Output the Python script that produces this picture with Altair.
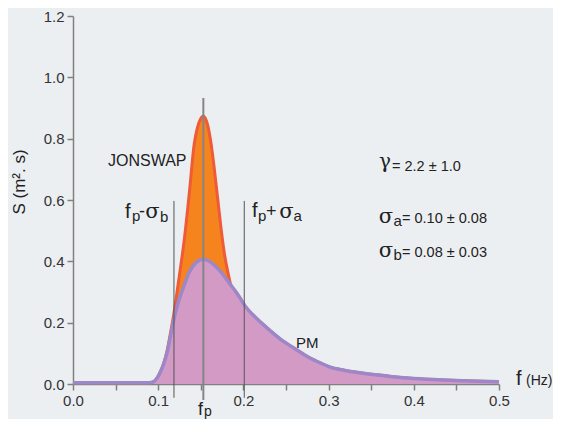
import altair as alt
import pandas as pd

# ---- data ----
pm_f = [0.0, 0.089, 0.095, 0.0988, 0.1035, 0.107, 0.1106, 0.114, 0.117, 0.121, 0.125, 0.130,
        0.136, 0.144, 0.153, 0.160, 0.168, 0.176, 0.1835, 0.190, 0.195, 0.201, 0.215, 0.2306,
        0.245, 0.260, 0.278, 0.290, 0.301, 0.318, 0.3365, 0.355, 0.375, 0.400, 0.434, 0.465, 0.500]
pm_s = [0.004, 0.004, 0.008, 0.020, 0.045, 0.070, 0.105, 0.150, 0.192, 0.240, 0.280, 0.318,
        0.362, 0.395, 0.407, 0.400, 0.382, 0.357, 0.329, 0.305, 0.285, 0.258, 0.215, 0.176,
        0.143, 0.116, 0.085, 0.069, 0.056, 0.045, 0.037, 0.030, 0.024, 0.018, 0.013, 0.010, 0.0075]

js_f = [0.0, 0.089, 0.095, 0.0988, 0.1035, 0.107, 0.1106, 0.114, 0.1185, 0.1247, 0.1306,
        0.1365, 0.1424, 0.1459, 0.1482, 0.153, 0.158, 0.162, 0.166, 0.170, 0.174, 0.178,
        0.182, 0.186, 0.190, 0.195, 0.201, 0.215, 0.2306, 0.245, 0.260, 0.278, 0.290, 0.301,
        0.318, 0.3365, 0.355, 0.375, 0.400, 0.434, 0.465, 0.500]
js_s = [0.004, 0.004, 0.008, 0.020, 0.045, 0.072, 0.110, 0.160, 0.231, 0.351, 0.470,
        0.622, 0.785, 0.834, 0.855, 0.874, 0.845, 0.785, 0.698, 0.600, 0.502, 0.420,
        0.362, 0.317, 0.305, 0.285, 0.258, 0.215, 0.176, 0.143, 0.116, 0.085, 0.069, 0.056,
        0.045, 0.037, 0.030, 0.024, 0.018, 0.013, 0.010, 0.0075]

side_f = [0.1185, 0.201]
side_top = [0.597, 0.597]
side_bottom = [-0.045, -0.045]
peak_f = [0.153]
peak_top = [0.933]
peak_bottom = [-0.052]

x_ticks = [0.0, 0.05, 0.1, 0.15, 0.2, 0.25, 0.3, 0.35, 0.4, 0.45, 0.5]
y_ticks = [0.0, 0.2, 0.4, 0.6, 0.8, 1.0, 1.2]

SANS = "Liberation Sans"
GREEK = "DejaVu Serif"
AX = "#808080"

xs = alt.Scale(domain=[0, 0.5], nice=False, zero=False)
ys = alt.Scale(domain=[0, 1.2], nice=False)

X = alt.X("f:Q", scale=xs, axis=alt.Axis(
    values=x_ticks, title=None, grid=False, labelOverlap=False, labelFlush=False,
    labelExpr="round(datum.value*20) % 2 == 0 ? format(datum.value, '.1f') : ''"))
Y = alt.Y("s:Q", scale=ys, axis=alt.Axis(
    values=y_ticks, title=None, grid=False, format=".1f", labelOverlap=False, labelFlush=False))

js_df = pd.DataFrame({"f": js_f, "s": js_s})
pm_df = pd.DataFrame({"f": pm_f, "s": pm_s})

js_area = alt.Chart(js_df).mark_area(color="#F5841F", interpolate="monotone", opacity=1).encode(x=X, y=Y)
js_line = alt.Chart(js_df).mark_line(color="#EF5A37", strokeWidth=3, interpolate="monotone").encode(x=X, y=Y)
pm_area = alt.Chart(pm_df).mark_area(color="#D39AC6", interpolate="monotone", opacity=1).encode(x=X, y=Y)
pm_line = alt.Chart(pm_df).mark_line(color="#9C87C8", strokeWidth=3.5, interpolate="monotone").encode(x=X, y=Y)

side_df = pd.DataFrame({"f": side_f, "s": side_bottom, "s2": side_top})
peak_df = pd.DataFrame({"f": peak_f, "s": peak_bottom, "s2": peak_top})
side_rules = alt.Chart(side_df).mark_rule(color="#555555", strokeWidth=1).encode(x=X, y=Y, y2="s2:Q")
peak_rule = alt.Chart(peak_df).mark_rule(color="#858585", strokeWidth=2).encode(x=X, y=Y, y2="s2:Q")


def txt(s, x, y, size, font=SANS, color="#222222", **kw):
    return alt.Chart(pd.DataFrame({"t": [s]})).mark_text(
        font=font, fontSize=size, color=color, align=kw.pop("align", "left"),
        baseline=kw.pop("baseline", "alphabetic"), **kw
    ).encode(x=alt.value(x), y=alt.value(y), text="t:N")


def greek(s, x, y, size=21):
    return txt(s, x, y, size, GREEK, align="center")


labels = [
    txt("JONSWAP", 35, 150, 16),
    txt("PM", 223, 332, 15),
    # f_p - sigma_b
    txt("f", 52, 202, 20), txt("p", 59, 205, 15), txt("-", 66, 201, 18),
    greek("σ", 79.5, 202), txt("b", 87, 206, 15),
    # f_p + sigma_a
    txt("f", 179, 201, 20), txt("p", 185, 205, 15), txt("+", 193, 201, 18),
    greek("σ", 213.5, 202), txt("a", 220.5, 205, 15),
    # parameters
    greek("γ", 312, 152, 20), txt("= 2.2 ± 1.0", 319, 155, 14.5),
    greek("σ", 313, 207), txt("a", 320.5, 210, 15), txt("= 0.10 ± 0.08", 329, 207, 14.5),
    greek("σ", 313, 241), txt("b", 320.5, 244, 15), txt("= 0.08 ± 0.03", 329, 241, 14.5),
    # axis titles
    txt("f", 443, 369, 20), txt("(Hz)", 453, 369, 14),
    txt("f", 125, 399, 18), txt("p", 131, 400, 14),
    txt("S (m². s)", -53, 166, 17, align="center", baseline="middle", angle=270),
]

chart = alt.layer(js_area, js_line, pm_area, pm_line, side_rules, peak_rule, *labels).properties(
    width=426, height=368,
    autosize=alt.AutoSizeParams(type="none"),
    padding={"left": 65, "top": 8, "right": 54, "bottom": 35},
    background="#eceff2",
).configure_view(stroke=None).configure_axis(
    domainColor=AX, domainWidth=1.5, tickColor=AX, tickWidth=1.5, tickSize=6,
    labelFont=SANS, labelFontSize=15, labelColor="#333333", labelPadding=3,
)

chart.save("out.html", embed_options={"renderer": "svg", "actions": False})
